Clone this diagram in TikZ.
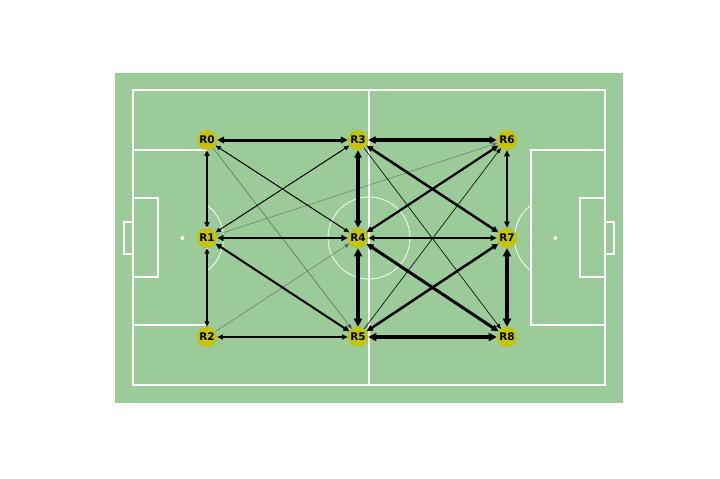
\documentclass[tikz,border=0pt]{standalone}
\usepackage{fontspec}
\setmainfont{DejaVu Sans}
\usetikzlibrary{arrows.meta}
\definecolor{pitchgreen}{RGB}{155,203,152}
\definecolor{nodey}{RGB}{196,196,0}
\begin{document}
\begin{tikzpicture}[x=1pt,y=-1pt,
  player/.style={circle,fill=nodey,minimum size=20pt,inner sep=0pt,font=\bfseries\fontsize{10.5}{10.5}\selectfont},
  pline/.style={draw=white,line width=1.6pt},
  thinline/.style={draw=white,line width=0.8pt},
  link/.style={draw=black,{Triangle[length=4.5pt 0.8,width=3.5pt 1.0]}-{Triangle[length=4.5pt 0.8,width=3.5pt 1.0]}},
  onelink/.style={draw=black,-{Triangle[length=4.5pt 0.8,width=3.5pt 1.0]}},
]
\useasboundingbox (0,0) rectangle (720,479);
\fill[pitchgreen] (115,73) rectangle (623,403);
% pitch markings
\draw[pline] (133,90) rectangle (605,385);
\draw[pline] (369,90) -- (369,385);
\draw[thinline] (369,238) circle [radius=41];
\fill[white] (369,238) circle [radius=2];
% left
\draw[pline] (133,150) rectangle (207,325);
\draw[pline] (133,198) rectangle (158,277);
\draw[pline] (133,222) rectangle (124,254);
\fill[white] (182.5,238) circle [radius=2];
\draw[thinline] (182.5,238) ++(-53.6:41) arc (-53.6:53.6:41);
% right
\draw[pline] (605,150) rectangle (531,325);
\draw[pline] (605,198) rectangle (580,277);
\draw[pline] (605,222) rectangle (614,254);
\fill[white] (555.5,238) circle [radius=2];
\draw[thinline] (555.5,238) ++(126.4:41) arc (126.4:233.6:41);
% players
\node[player] (R0) at (207,140) {R0};
\node[player] (R3) at (358,140) {R3};
\node[player] (R6) at (507,140) {R6};
\node[player] (R1) at (207,238) {R1};
\node[player] (R4) at (358,238) {R4};
\node[player] (R7) at (507,238) {R7};
\node[player] (R2) at (207,337) {R2};
\node[player] (R5) at (358,337) {R5};
\node[player] (R8) at (507,337) {R8};
% passes
\draw[onelink, line width=0.4pt, draw=black!70] (R0) -- (R5);
\draw[onelink, line width=0.4pt, draw=black!60] (R1) -- (R6);
\draw[onelink, line width=0.4pt, draw=black!60] (R2) -- (R4);
\draw[onelink, line width=0.6pt] (R3) -- (R8);
\draw[onelink, line width=0.6pt] (R5) -- (R6);
\draw[link, line width=3pt] (R0) -- (R3);
\draw[link, line width=1.6pt] (R0) -- (R1);
\draw[link, line width=1.2pt] (R1) -- (R2);
\draw[link, line width=1pt] (R0) -- (R4);
\draw[link, line width=1pt] (R1) -- (R3);
\draw[link, line width=2.5pt] (R1) -- (R4);
\draw[link, line width=2pt] (R1) -- (R5);
\draw[link, line width=1.5pt] (R2) -- (R5);
\draw[link, line width=3.5pt] (R3) -- (R4);
\draw[link, line width=3.5pt] (R3) -- (R6);
\draw[link, line width=2.5pt] (R3) -- (R7);
\draw[link, line width=4.5pt] (R4) -- (R5);
\draw[link, line width=2.2pt] (R4) -- (R6);
\draw[link, line width=2pt] (R4) -- (R7);
\draw[link, line width=3pt] (R4) -- (R8);
\draw[link, line width=2.5pt] (R5) -- (R7);
\draw[link, line width=4.5pt] (R5) -- (R8);
\draw[link, line width=2pt] (R6) -- (R7);
\draw[link, line width=4.5pt] (R7) -- (R8);
\end{tikzpicture}
\end{document}
